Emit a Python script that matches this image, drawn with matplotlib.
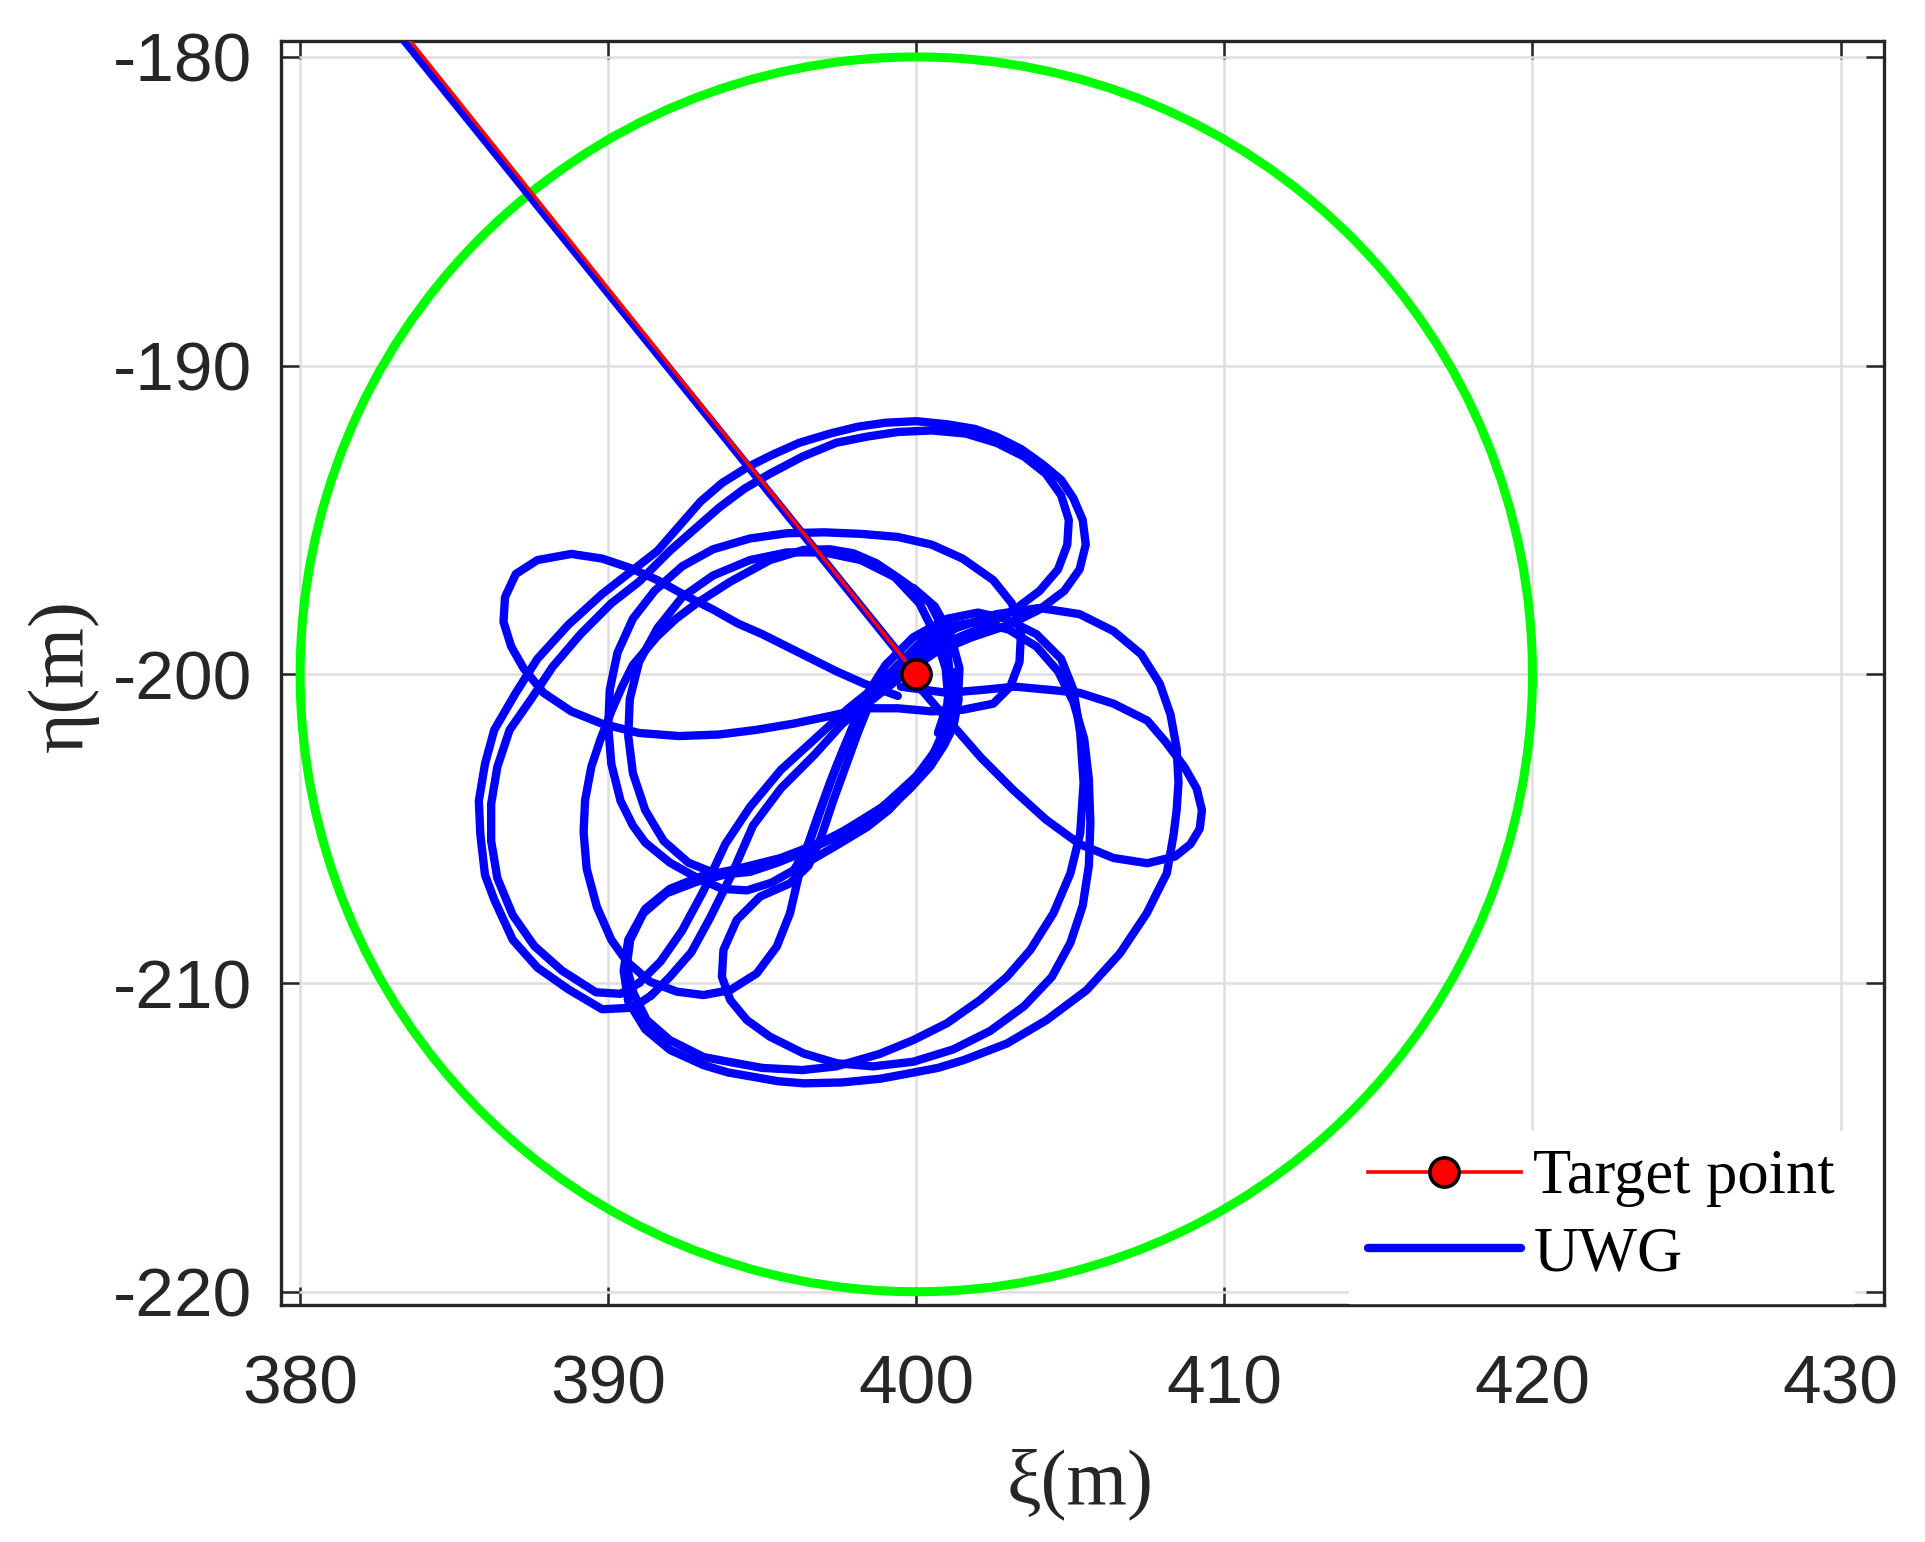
# -*- coding: utf-8 -*-
# UWG station keeping around the target point

import matplotlib.pyplot as plt
from matplotlib.patches import Circle

plt.rcParams['axes.unicode_minus'] = False

# target point and the allowed circle
target_x = [383.19, 400.0]
target_y = [-179.0, -200.0]
circle_center = (400.0, -200.0)
circle_radius = 20.0

# UWG track
approach_x = [383.0, 399.95]
approach_y = [-179.0, -199.95]

leaf_a_x = [391.4, 392.0, 392.7, 393.3, 394.0, 394.7, 395.6, 396.7, 397.6, 398.6, 399.6, 400.6, 401.8, 403.0,
            404.0, 404.8, 405.3, 405.5, 405.4, 405.1, 404.7, 404.1, 403.4, 402.6, 401.9, 401.0, 400.0, 399.0,
            398.1, 397.2, 396.2, 395.3, 394.5, 393.7, 393.0, 392.3, 391.6, 390.7, 389.8, 388.7, 387.7, 387.0,
            386.3, 386.0, 385.8, 385.85, 386.0, 386.3, 386.9, 387.7, 388.7, 389.8, 390.8, 391.4]
leaf_a_y = [-210.4, -209.8, -209.0, -207.9, -206.5, -204.9, -203.7, -202.6, -201.6, -200.8, -200.0, -199.3,
            -198.8, -198.4, -197.9, -197.3, -196.6, -195.8, -195.0, -194.3, -193.7, -193.2, -192.7, -192.3,
            -192.05, -191.9, -191.8, -191.85, -191.98, -192.2, -192.5, -192.9, -193.3, -193.8, -194.4, -195.2,
            -196.0, -196.7, -197.4, -198.4, -199.5, -200.6, -201.8, -202.9, -204.1, -205.2, -206.5, -207.3,
            -208.6, -209.5, -210.2, -210.85, -210.8, -210.4]

leaf_b_x = [391.0, 391.7, 392.4, 393.1, 393.8, 394.6, 395.6, 396.7, 397.8, 398.8, 399.8, 400.9, 402.1, 403.2,
            404.0, 404.6, 404.9, 404.95, 404.7, 404.2, 403.5, 402.6, 401.6, 400.5, 399.4, 398.4, 397.4, 396.3,
            395.25, 394.4, 393.6, 392.8, 392.0, 391.0, 390.1, 389.1, 388.2, 387.5, 386.8, 386.4, 386.2, 386.2,
            386.4, 386.9, 387.6, 388.5, 389.6, 390.4, 391.0]
leaf_b_y = [-210.0, -209.3, -208.3, -207.0, -205.5, -204.3, -203.1, -202.1, -201.1, -200.3, -199.6, -199.0,
            -198.5, -197.9, -197.3, -196.6, -195.8, -195.0, -194.2, -193.5, -192.95, -192.5, -192.2, -192.1,
            -192.15, -192.3, -192.5, -192.95, -193.5, -194.0, -194.6, -195.3, -196.0, -197.0, -197.7, -198.7,
            -199.75, -200.8, -201.8, -203.0, -204.2, -205.4, -206.6, -207.8, -208.8, -209.6, -210.3, -210.35,
            -210.0]

ear_x = [399.4, 398.3, 397.4, 396.6, 395.8, 395.0, 394.2, 393.4, 392.6, 391.6, 390.7, 389.8, 388.8, 387.7,
         387.0, 386.65, 386.6, 386.85, 387.25, 387.9, 388.8, 389.8, 391.0, 392.3, 393.6, 394.8, 396.0, 397.2,
         398.3, 399.4, 400.5, 401.5, 402.5, 403.05, 403.35, 403.4, 403.1, 402.5, 401.5, 400.5, 399.4, 398.2,
         397.0, 395.8, 394.6, 393.4, 392.4, 391.5, 390.8, 390.3, 390.05, 390.0, 390.1, 390.4, 390.8, 391.2,
         392.0, 392.9, 393.7, 394.5, 395.3, 396.1, 397.4, 398.4, 399.1, 399.9, 400.5, 400.9, 401.05, 400.95,
         400.6, 400.1, 399.3, 398.2, 397.0, 395.8, 394.6, 393.4, 392.4, 391.6, 391.0, 390.7, 390.65, 390.8,
         391.2, 391.8, 392.6, 393.6, 394.6, 395.5, 396.5, 397.6, 398.9, 400.0, 400.9, 401.35, 401.4, 401.1,
         400.6, 399.9]
ear_y = [-200.7, -200.3, -199.9, -199.5, -199.1, -198.7, -198.35, -197.9, -197.5, -196.95, -196.55, -196.25,
         -196.1, -196.3, -196.75, -197.5, -198.3, -199.1, -199.8, -200.6, -201.2, -201.6, -201.9, -202.0,
         -201.95, -201.8, -201.6, -201.35, -201.1, -201.1, -201.2, -201.15, -200.95, -200.4, -199.6, -198.6,
         -197.7, -196.95, -196.25, -195.8, -195.55, -195.45, -195.4, -195.43, -195.6, -195.95, -196.5,
         -197.3, -198.2, -199.3, -200.5, -201.7, -202.9, -204.1, -204.9, -205.45, -206.1, -206.6, -206.95,
         -207.0, -206.75, -206.3, -205.55, -204.95, -204.4, -203.55, -202.7, -201.8, -200.9, -199.8, -198.7,
         -197.7, -196.85, -196.3, -196.05, -196.05, -196.3, -196.8, -197.5, -198.5, -199.6, -200.8, -202.0,
         -203.2, -204.4, -205.4, -206.1, -206.5, -206.4, -206.1, -205.7, -205.1, -204.3, -203.3, -202.1,
         -200.9, -199.8, -198.7, -197.8, -197.2]

right_ear_x = [399.5, 401.0, 402.2, 403.2, 404.3, 405.3, 406.4, 407.5, 408.1, 408.7, 409.1, 409.27, 409.2,
               408.9, 408.4, 407.5, 406.4, 405.3, 404.2, 403.15, 402.1, 401.4, 400.6, 400.0]
right_ear_y = [-200.4, -200.6, -200.5, -200.4, -200.5, -200.6, -200.95, -201.5, -202.2, -203.0, -203.7,
               -204.4, -205.0, -205.5, -205.9, -206.12, -205.95, -205.5, -204.7, -203.75, -202.7, -201.9,
               -201.0, -200.3]

loop_f_x = [396.0, 396.55, 397.0, 397.4, 397.85, 398.3, 399.0, 399.9, 401.0, 402.0, 402.9, 403.9, 404.7,
            405.1, 405.32, 405.43, 405.32, 405.0, 404.45, 403.7, 402.94, 402.07, 401.0, 399.9, 398.8, 397.4,
            396.3, 395.0, 393.9, 393.1, 392.0, 391.25, 390.82, 390.6, 390.71, 391.14, 391.9, 392.87, 393.74,
            394.5, 395.25, 396.34, 397.42, 398.3, 399.04, 399.8, 400.45, 400.9, 401.2, 401.37, 401.3]
loop_f_y = [-206.4, -205.4, -204.1, -203.0, -201.9, -200.8, -199.7, -198.8, -198.2, -198.0, -198.2, -198.7,
            -199.5, -200.5, -201.9, -203.5, -205.15, -206.45, -207.74, -208.93, -209.8, -210.55, -211.3,
            -211.85, -212.3, -212.7, -212.82, -212.75, -212.55, -212.4, -211.85, -211.2, -210.33, -209.47,
            -208.61, -207.74, -207.09, -206.72, -206.5, -206.3, -206.12, -205.75, -205.26, -204.85, -204.4,
            -203.7, -202.99, -202.3, -201.7, -200.83, -199.9]

loop_e_x = [399.6, 400.4, 401.3, 402.6, 404.0, 405.3, 406.4, 407.3, 407.9, 408.25, 408.45, 408.51, 408.45,
            408.35, 408.13, 407.8, 407.48, 406.61, 405.53, 404.23, 402.94, 401.53, 400.7, 399.91, 398.83,
            397.6, 396.34, 395.5, 394.71, 393.9, 393.09, 392.01, 391.2, 390.65, 390.5, 390.65, 391.2, 392.0,
            393.0, 394.2, 395.6, 396.9, 398.2, 399.3, 400.2, 400.8, 401.1, 401.15]
loop_e_y = [-199.7, -199.0, -198.5, -198.05, -197.85, -198.05, -198.6, -199.35, -200.3, -201.3, -202.4,
            -203.5, -204.4, -205.2, -206.45, -207.1, -207.74, -209.04, -210.23, -211.2, -211.96, -212.5,
            -212.75, -212.9, -213.1, -213.22, -213.25, -213.18, -213.04, -212.9, -212.66, -212.17, -211.5,
            -210.6, -209.6, -208.6, -207.6, -206.95, -206.55, -206.3, -205.95, -205.45, -204.8, -204.0,
            -203.1, -202.2, -201.3, -200.4]

lens_g_x = [399.6, 399.0, 398.5, 398.0, 397.6, 397.2, 396.8, 396.45, 396.2, 395.9, 395.47, 394.82, 393.96,
            393.09, 392.23, 391.36, 390.6, 390.1, 389.63, 389.3, 389.2, 389.25, 389.45, 389.74, 390.1, 390.45,
            390.8, 391.58, 392.2, 392.87, 393.96, 395.25, 396.34, 397.2, 397.96, 398.7, 399.36, 400.0, 400.45,
            400.8, 401.0, 401.1, 401.0, 400.7]
lens_g_y = [-199.5, -200.1, -200.7, -201.6, -202.5, -203.5, -204.6, -205.6, -206.45, -207.74, -208.82,
            -209.69, -210.23, -210.39, -210.28, -209.96, -209.3, -208.6, -207.53, -206.3, -205.1, -204.07,
            -203.0, -202.13, -201.2, -200.4, -199.7, -198.78, -198.2, -197.7, -197.0, -196.3, -195.97, -195.95,
            -196.08, -196.4, -196.84, -197.3, -197.7, -198.4, -199.2, -200.1, -201.0, -201.9]

loop_b_x = [398.9, 398.5, 398.1, 397.7, 397.3, 396.9, 396.5, 395.9, 394.93, 394.17, 393.74, 393.69, 393.96,
            394.5, 395.25, 396.34, 397.42, 398.6, 399.9, 401.2, 402.4, 403.5, 404.4, 405.0, 405.4, 405.6,
            405.65, 405.6, 405.45, 405.1, 404.6, 403.9, 403.0, 402.0, 401.0, 400.2, 399.6]
loop_b_y = [-200.0, -200.9, -201.9, -203.0, -204.1, -205.3, -206.2, -206.77, -207.2, -207.96, -208.93,
            -209.8, -210.55, -211.2, -211.74, -212.28, -212.6, -212.7, -212.55, -212.15, -211.55, -210.75,
            -209.8, -208.7, -207.5, -206.2, -204.8, -203.4, -202.1, -200.9, -199.9, -199.1, -198.55, -198.3,
            -198.45, -198.9, -199.5]

uwg_parts = [(approach_x, approach_y), (leaf_a_x, leaf_a_y), (leaf_b_x, leaf_b_y), (ear_x, ear_y),
             (right_ear_x, right_ear_y), (loop_f_x, loop_f_y), (loop_e_x, loop_e_y),
             (lens_g_x, lens_g_y), (loop_b_x, loop_b_y)]

tick_x = [380, 390, 400, 410, 420, 430]
tick_y = [-220, -210, -200, -190, -180]

fig = plt.figure(figsize=(19.25, 15.42), dpi=100)
ax = fig.add_axes([0.146, 0.1537, 0.8327, 0.82])

# allowed circle
ax.add_patch(Circle(circle_center, circle_radius, fill=False, edgecolor='#00ff00', linewidth=6.5, zorder=2))

# UWG track
for i, (px, py) in enumerate(uwg_parts):
    ax.plot(px, py, color='#0000ff', linewidth=6, solid_joinstyle='round', solid_capstyle='round',
            zorder=3, label='UWG' if i == 0 else None)

# target line + point
line_t, = ax.plot(target_x, target_y, color='#ff0000', linewidth=2.6, marker='o', markevery=[1],
                  markersize=21, markerfacecolor='#ff0000', markeredgecolor='#000000',
                  markeredgewidth=2.6, zorder=4, label='Target point')

ax.set_xlim(379.38, 431.41)
ax.set_ylim(-220.43, -179.47)
ax.set_xticks(tick_x)
ax.set_yticks(tick_y)

ax.grid(True, color='#dedede', linewidth=1.8)
ax.set_axisbelow(True)

for sp in ax.spines.values():
    sp.set_color('#262626')
    sp.set_linewidth(2.4)

ax.tick_params(direction='in', length=13, width=1.8, top=True, right=True, colors='#262626')
ax.tick_params(axis='x', pad=35)
ax.tick_params(axis='y', pad=21)
for lab in ax.get_xticklabels() + ax.get_yticklabels():
    lab.set_fontfamily('Liberation Sans')
    lab.set_fontsize(50)

ax.set_xlabel('ξ(m)', fontfamily='Liberation Serif', fontsize=56, color='#262626')
ax.xaxis.set_label_coords(0.4985, -0.1416)
ax.xaxis.label.set_va('center')
ax.set_ylabel('η(m)', fontfamily='Liberation Serif', fontsize=56, color='#262626')
ax.yaxis.set_label_coords(-0.136, 0.498)
ax.yaxis.label.set_va('center')

h_uwg = ax.get_lines()[0]
leg = ax.legend([line_t, h_uwg], ['Target point', 'UWG'], loc='lower left',
                bbox_to_anchor=(0.7008, 0.1550), bbox_transform=fig.transFigure,
                prop={'family': 'Liberation Serif', 'size': 45}, numpoints=1,
                handlelength=2.45, handletextpad=0.2, labelspacing=0.3, borderpad=0.3,
                borderaxespad=0, fancybox=False, framealpha=1)
leg.get_frame().set_facecolor('white')
leg.get_frame().set_edgecolor('white')

plt.savefig('out.png', dpi=100)
